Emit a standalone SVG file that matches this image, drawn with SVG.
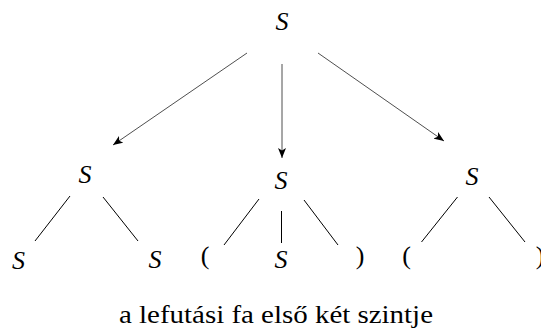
<svg xmlns="http://www.w3.org/2000/svg" width="541" height="330" viewBox="0 0 541 330">
<style>
.m{text-anchor:middle;fill:#000}
.arr{stroke:#222;stroke-width:0.8;fill:none;marker-end:url(#ah)}
.edge{stroke:#000;stroke-width:1;fill:none}
</style>
<defs>
<marker id="ah" viewBox="0 0 10 8" refX="10" refY="4" markerWidth="10" markerHeight="8" markerUnits="userSpaceOnUse" orient="auto">
<path d="M0,0 L10,4 L0,8 L2.5,4 Z" fill="#000"/>
</marker>
</defs>
<rect width="541" height="330" fill="#fff"/>
<g id="connectors">
<line class="arr" x1="247" y1="53" x2="113" y2="145"/>
<line class="arr" x1="282" y1="64" x2="282" y2="158"/>
<line class="arr" x1="318" y1="53" x2="444" y2="141"/>
<line class="edge" x1="70" y1="196" x2="35" y2="241"/>
<line class="edge" x1="103" y1="197" x2="138" y2="241"/>
<line class="edge" x1="259" y1="199" x2="224" y2="245"/>
<line class="edge" x1="281.5" y1="211" x2="281.5" y2="243"/>
<line class="edge" x1="304" y1="200" x2="338" y2="245"/>
<line class="edge" x1="457.5" y1="197" x2="421.5" y2="242"/>
<line class="edge" x1="489" y1="197" x2="525" y2="242"/>
</g>
<g id="root"><text class="m" x="282" y="29.5" style="font-family:'Liberation Serif',serif;font-style:italic;font-size:26px">S</text></g>
<g id="s-left"><text class="m" x="85" y="183" style="font-family:'Liberation Serif',serif;font-style:italic;font-size:26px">S</text></g>
<g id="s-mid"><text class="m" x="281" y="189" style="font-family:'Liberation Serif',serif;font-style:italic;font-size:26px">S</text></g>
<g id="s-right"><text class="m" x="472" y="185" style="font-family:'Liberation Serif',serif;font-style:italic;font-size:26px">S</text></g>
<g id="l-s1"><text class="m" x="18.5" y="269" style="font-family:'Liberation Serif',serif;font-style:italic;font-size:26px">S</text></g>
<g id="l-s2"><text class="m" x="155" y="268" style="font-family:'Liberation Serif',serif;font-style:italic;font-size:26px">S</text></g>
<g id="m-lp"><text class="m" x="205" y="264" style="font-family:'Liberation Serif',serif;font-size:26px">(</text></g>
<g id="m-s"><text class="m" x="281" y="268" style="font-family:'Liberation Serif',serif;font-style:italic;font-size:26px">S</text></g>
<g id="m-rp"><text class="m" x="360" y="264" style="font-family:'Liberation Serif',serif;font-size:26px">)</text></g>
<g id="r-lp"><text class="m" x="406.5" y="264" style="font-family:'Liberation Serif',serif;font-size:26px">(</text></g>
<g id="r-rp"><text class="m" x="540" y="264" style="font-family:'Liberation Serif',serif;font-size:26px">)</text></g>
<g id="caption"><text x="119" y="323" textLength="314" lengthAdjust="spacingAndGlyphs" style="font-family:'Liberation Serif',serif;font-size:25px;fill:#000">a lefutási fa első két szintje</text></g>
</svg>
